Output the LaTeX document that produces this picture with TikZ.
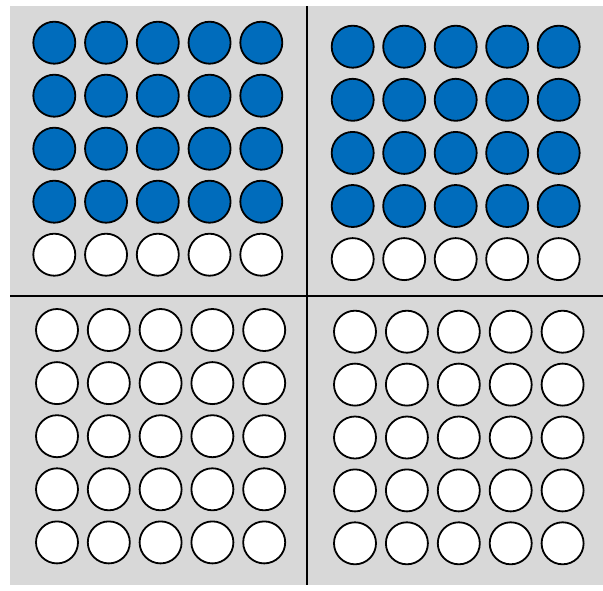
\documentclass[tikz,border=0pt]{standalone}
\usepackage{tikz}
\definecolor{bead}{RGB}{0,108,188}
\definecolor{tray}{RGB}{216,216,216}

\begin{document}
\begin{tikzpicture}[
  x=1pt,y=-1pt,
  ball/.style={circle,draw,line width=1.8pt,minimum size=42pt,inner sep=0pt},
  divider/.style={line width=1.8pt}
]
\useasboundingbox (0,0) rectangle (603,590);
\node[fill=tray,minimum width=593pt,minimum height=579pt,inner sep=0pt,anchor=north west] (panel) at (10,6) {};
\coordinate (mid) at (307,296);
\draw[divider] (panel.north -| mid) -- (panel.south -| mid);
\draw[divider] (panel.west |- mid) -- (panel.east |- mid);
% quadrants: name/x0/dx/y0/dy/blue rows
\foreach \q/\xo/\dx/\yo/\dy/\nb in {tl/54.3/51.75/42.7/53/4, tr/352.7/51.5/46.7/53.1/4, bl/57/51.8/330/53.1/0, br/355/51.9/331.7/52.9/0}
  \foreach \r in {1,...,5}
    \foreach \c in {1,...,5} {
      \ifnum\r>\nb \def\fillcol{white}\else \def\fillcol{bead}\fi
      \node[ball,fill=\fillcol] (\q-\r-\c) at ({\xo+(\c-1)*\dx},{\yo+(\r-1)*\dy}) {};
    }
\end{tikzpicture}
\end{document}
